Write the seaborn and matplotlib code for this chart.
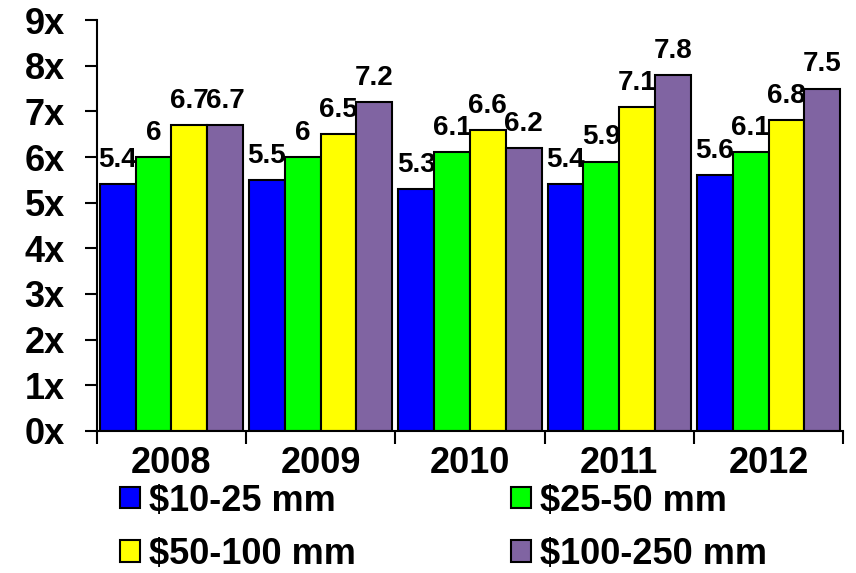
import seaborn as sns
import pandas as pd
import numpy as np
import matplotlib.pyplot as plt

years = ['2008', '2009', '2010', '2011', '2012']
sizes = ['$10-25 mm', '$25-50 mm', '$50-100 mm', '$100-250 mm']
v_10_25 = [5.4, 5.5, 5.3, 5.4, 5.6]
v_25_50 = [6.0, 6.0, 6.1, 5.9, 6.1]
v_50_100 = [6.7, 6.5, 6.6, 7.1, 6.8]
v_100_250 = [6.7, 7.2, 6.2, 7.8, 7.5]
colors = ['#0000ff', '#00ff00', '#ffff00', '#8064a2']

df = pd.DataFrame({'year': years * 4,
                   'size': np.repeat(sizes, len(years)),
                   'multiple': v_10_25 + v_25_50 + v_50_100 + v_100_250})

sns.set_style('white')
plt.rcParams['font.family'] = ['Liberation Sans', 'DejaVu Sans']
plt.rcParams['font.weight'] = 'bold'
for k in ['text.color', 'xtick.color', 'ytick.color', 'axes.labelcolor']:
    plt.rcParams[k] = 'black'

fig = plt.figure(figsize=(8.56, 5.73), dpi=100)
ax = fig.add_axes([0.113, 0.248, 0.872, 0.717])

sns.barplot(data=df, x='year', y='multiple', hue='size', palette=colors, saturation=1,
            width=0.96, edgecolor='black', linewidth=1.5, ax=ax, legend=True)

for c in ax.containers:
    ax.bar_label(c, labels=['%g' % v for v in c.datavalues], padding=8,
                 fontsize=20, fontweight='bold')

ax.set_ylim(0, 9)
ax.set_xlim(-0.5, 4.5)
ax.set_yticks(range(10))
ax.set_yticklabels(['%dx' % i for i in range(10)], fontsize=26, fontweight='bold')
ax.set_xticks(range(5))
ax.set_xticklabels(years, fontsize=26, fontweight='bold')
ax.set_xticks(np.arange(-0.5, 5, 1), minor=True)
ax.tick_params(axis='x', which='major', length=0, pad=11)
ax.tick_params(axis='x', which='minor', length=9, width=1.5, direction='out', bottom=True)
ax.tick_params(axis='y', length=9, width=1.5, direction='out', left=True, pad=14)
ax.set_xlabel('')
ax.set_ylabel('')
for s in ['top', 'right']:
    ax.spines[s].set_visible(False)
for s in ['left', 'bottom']:
    ax.spines[s].set_color('black')
    ax.spines[s].set_linewidth(1.5)

handles, labels = ax.get_legend_handles_labels()
ax.get_legend().remove()
# legend fills row by row in the reference
order = [0, 2, 1, 3]
fig.legend([handles[i] for i in order], [labels[i] for i in order], ncol=2,
           loc='upper left', bbox_to_anchor=(0.14, 0.156),
           frameon=False, prop={'size': 26, 'weight': 'bold'},
           handlelength=0.56, handleheight=0.53, handletextpad=0.25,
           columnspacing=4.3, labelspacing=0.5, borderaxespad=0, borderpad=0)

fig.savefig('out.png', dpi=100)
